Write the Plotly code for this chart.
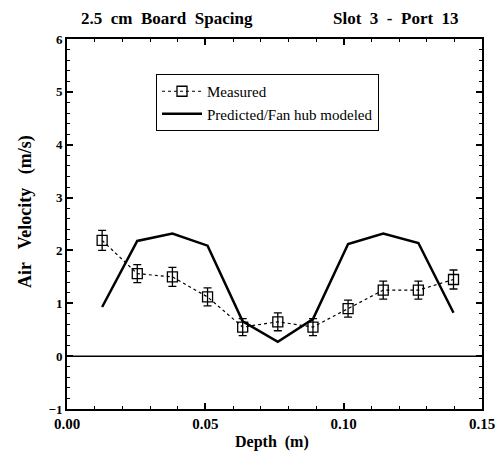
import plotly.graph_objects as go

depth = [0.0127, 0.0254, 0.0381, 0.0508, 0.0635, 0.0762, 0.0889, 0.1016, 0.1143, 0.1270, 0.1397]
measured = [2.19, 1.56, 1.50, 1.12, 0.55, 0.65, 0.55, 0.90, 1.25, 1.25, 1.45]
measured_err = [0.19, 0.17, 0.18, 0.17, 0.16, 0.17, 0.16, 0.16, 0.17, 0.17, 0.18]
predicted = [0.93, 2.18, 2.32, 2.09, 0.66, 0.27, 0.70, 2.12, 2.32, 2.14, 0.82]
zero_x = [0.0, 0.15]
zero_y = [0.0, 0.0]

FONT = "Liberation Serif"
L, R, T, B = 67, 21, 39, 44
W, H = 503, 453
PW, PH = W - L - R, H - T - B

fig = go.Figure()
fig.add_trace(go.Scatter(
    x=zero_x, y=zero_y, mode="lines", line=dict(color="black", width=1.5),
    showlegend=False, hoverinfo="skip"))
fig.add_trace(go.Scatter(
    x=depth, y=measured, mode="lines+markers", name="Measured",
    line=dict(color="black", width=1.2, dash="dot"),
    marker=dict(symbol="square-open", size=10, color="black", line=dict(width=1.3)),
    error_y=dict(type="data", array=measured_err, color="black", thickness=1.3, width=4)))
fig.add_trace(go.Scatter(
    x=depth, y=predicted, mode="lines", name="Predicted/Fan hub modeled",
    line=dict(color="black", width=2.5)))

fig.update_layout(
    width=W, height=H,
    margin=dict(l=L, r=R, t=T, b=B, autoexpand=False),
    paper_bgcolor="white", plot_bgcolor="white",
    font=dict(family=FONT, color="black"),
    showlegend=True,
    legend=dict(x=(156 - L) / PW, y=(H - B - 74) / PH, xanchor="left", yanchor="top",
                bordercolor="black", borderwidth=1, bgcolor="white",
                font=dict(family=FONT, size=15), tracegroupgap=0,
                itemwidth=40),
    xaxis=dict(range=[0, 0.15], tickvals=[0, 0.05, 0.10, 0.15],
               ticktext=["0.00", "0.05", "0.10", "0.15"],
               ticks="inside", ticklen=6, tickwidth=1.5, tickcolor="black",
               minor=dict(dtick=0.01, ticks="inside", ticklen=3, tickcolor="black", tickwidth=1.2),
               showline=True, linecolor="black", linewidth=2, mirror="ticks",
               showgrid=False, zeroline=False, automargin=False,
               tickfont=dict(family=FONT, size=15, weight="bold")),
    yaxis=dict(range=[-1, 6], dtick=1,
               ticks="inside", ticklen=6, tickwidth=1.5, tickcolor="black",
               minor=dict(dtick=0.2, ticks="inside", ticklen=3, tickcolor="black", tickwidth=1.2),
               showline=True, linecolor="black", linewidth=2, mirror="ticks",
               showgrid=False, zeroline=False, automargin=False,
               tickfont=dict(family=FONT, size=13, weight="bold")),
)
fig.add_annotation(text="2.5  cm  Board  Spacing", xref="paper", yref="paper",
                   x=0.03, y=1.025, xanchor="left", yanchor="bottom", showarrow=False,
                   font=dict(family=FONT, size=17, weight="bold"))
fig.add_annotation(text="Slot  3  -  Port  13", xref="paper", yref="paper",
                   x=0.95, y=1.025, xanchor="right", yanchor="bottom", showarrow=False,
                   font=dict(family=FONT, size=17, weight="bold"))
fig.add_annotation(text="Depth  (m)", xref="paper", yref="paper",
                   x=(272 - L) / PW, y=-(442 - (H - B)) / PH, xanchor="center", yanchor="middle",
                   showarrow=False, font=dict(family=FONT, size=16, weight="bold"))
fig.add_annotation(text="Air   Velocity   (m/s)", xref="paper", yref="paper",
                   x=-(L - 25) / PW, y=(H - B - 212) / PH, xanchor="center", yanchor="middle",
                   textangle=-90, showarrow=False, font=dict(family=FONT, size=18, weight="bold"))

fig.write_html("out.html")
